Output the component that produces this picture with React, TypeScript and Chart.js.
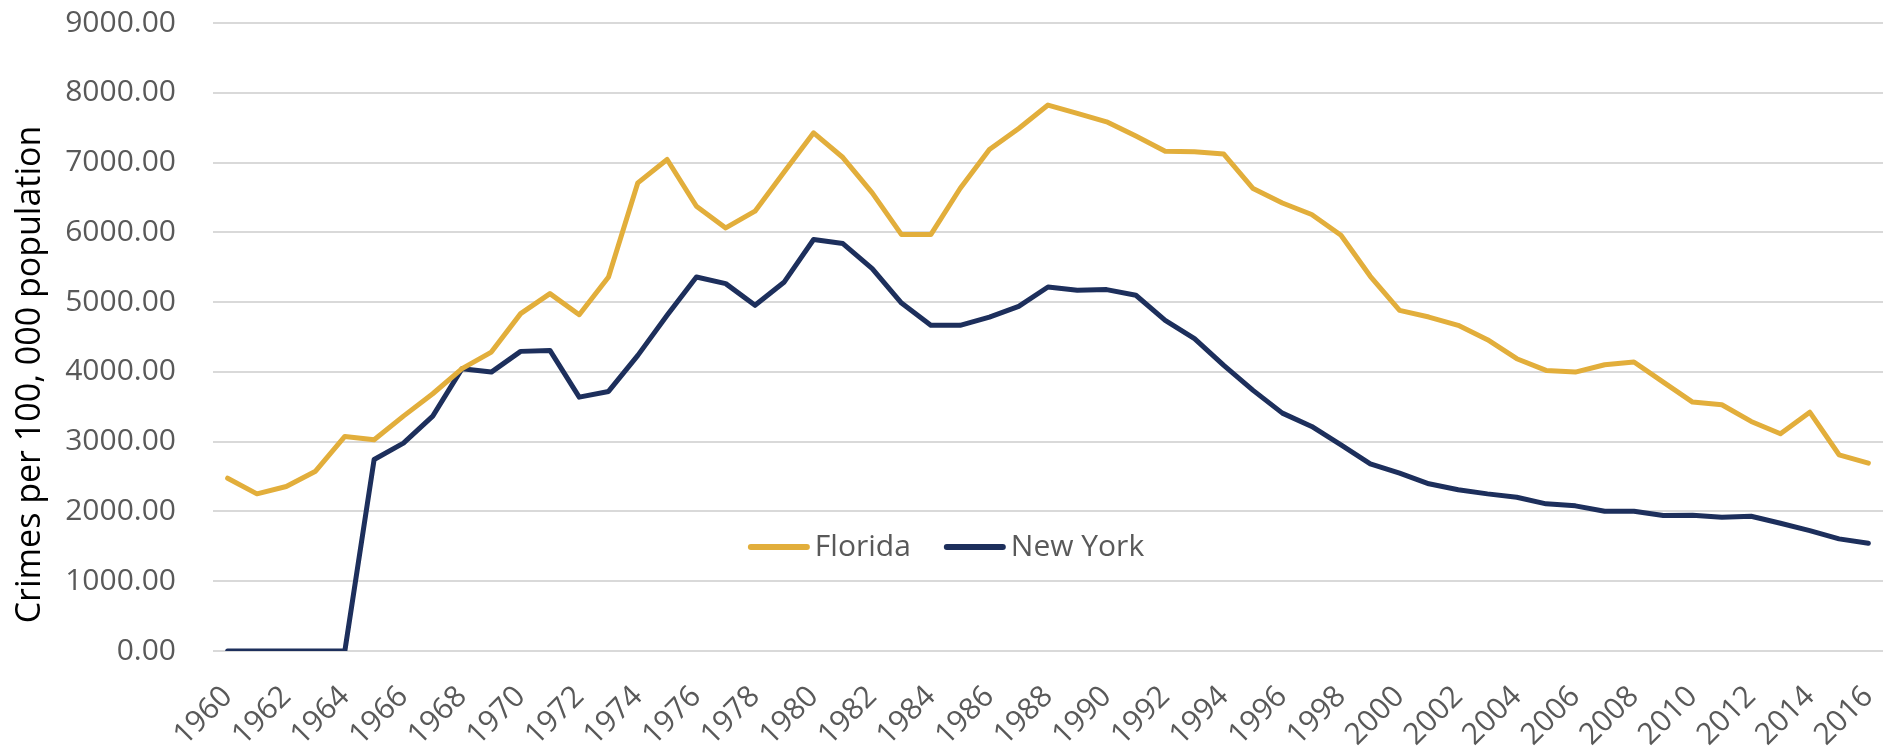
import React, { useEffect, useRef } from "react";
import { Chart, registerables } from "chart.js";

Chart.register(...registerables);

const years: string[] = [
  "1960","1961","1962","1963","1964","1965","1966","1967","1968","1969",
  "1970","1971","1972","1973","1974","1975","1976","1977","1978","1979",
  "1980","1981","1982","1983","1984","1985","1986","1987","1988","1989",
  "1990","1991","1992","1993","1994","1995","1996","1997","1998","1999",
  "2000","2001","2002","2003","2004","2005","2006","2007","2008","2009",
  "2010","2011","2012","2013","2014","2015","2016",
];

const florida: number[] = [
  2476, 2252, 2357, 2577, 3075, 3027, 3366, 3687, 4046, 4284,
  4835, 5122, 4820, 5360, 6709, 7044, 6374, 6063, 6303, 6867,
  7426, 7072, 6565, 5968, 5968, 6628, 7188, 7489, 7824, 7704,
  7584, 7379, 7163, 7154, 7121, 6628, 6420, 6255, 5958, 5370,
  4882, 4786, 4667, 4462, 4189, 4021, 3997, 4103, 4141, 3854,
  3567, 3529, 3290, 3113, 3423, 2812, 2692,
];

const newYork: number[] = [
  0, 0, 0, 0, 0, 2745, 2979, 3366, 4046, 3997,
  4294, 4308, 3638, 3720, 4237, 4811, 5360, 5265, 4954, 5289,
  5897, 5839, 5481, 4987, 4667, 4667, 4786, 4940, 5217, 5169,
  5179, 5098, 4739, 4476, 4093, 3735, 3409, 3218, 2955, 2683,
  2548, 2396, 2310, 2252, 2204, 2109, 2080, 2003, 2003, 1941,
  1945, 1917, 1931, 1831, 1726, 1607, 1544,
];

const seriesNames: string[] = ["Florida", "New York"];
const seriesColors: string[] = ["#E2AE3B", "#1D2F5C"];
const yMin = 0;
const yMax = 9000;
const yStep = 1000;
const yAxisTitle = "Crimes per 100, 000 population";

const FONT = "'Open Sans', 'DejaVu Sans', sans-serif";
const TICK_COLOR = "#595959";

export default function App() {
  const canvasRef = useRef<HTMLCanvasElement | null>(null);

  useEffect(() => {
    document.body.style.margin = "0";
    const canvas = canvasRef.current;
    if (!canvas) return;

    const yTitlePlugin = {
      id: "yTitle",
      afterDraw(chart: any) {
        const c = chart.ctx as CanvasRenderingContext2D;
        c.save();
        c.translate(30, chart.height / 2);
        c.rotate(-Math.PI / 2);
        c.font = `34px ${FONT}`;
        c.fillStyle = "#000000";
        c.textAlign = "center";
        c.textBaseline = "middle";
        c.fillText(yAxisTitle, 0, 0);
        c.restore();
      },
    };

    const legendPlugin = {
      id: "customLegend",
      afterDraw(chart: any) {
        const c = chart.ctx as CanvasRenderingContext2D;
        c.save();
        c.font = `30px ${FONT}`;
        const lineLen = 62;
        const gapLineText = 5;
        const gapItems = 33;
        const widths = seriesNames.map((n) => c.measureText(n).width);
        let total = 0;
        widths.forEach((w, i) => {
          total += lineLen + gapLineText + w + (i < widths.length - 1 ? gapItems : 0);
        });
        let x = chart.width / 2 - total / 2;
        const y = 547;
        seriesNames.forEach((name, i) => {
          c.strokeStyle = seriesColors[i];
          c.lineWidth = 6;
          c.lineCap = "round";
          c.beginPath();
          c.moveTo(x + 3, y);
          c.lineTo(x + lineLen - 3, y);
          c.stroke();
          c.fillStyle = TICK_COLOR;
          c.textAlign = "left";
          c.textBaseline = "middle";
          c.fillText(name, x + lineLen + gapLineText, y);
          x += lineLen + gapLineText + widths[i] + gapItems;
        });
        c.restore();
      },
    };

    const chart = new Chart(canvas, {
      type: "line",
      data: {
        labels: years,
        datasets: [
          {
            label: seriesNames[0],
            data: florida,
            borderColor: seriesColors[0],
            backgroundColor: seriesColors[0],
          },
          {
            label: seriesNames[1],
            data: newYork,
            borderColor: seriesColors[1],
            backgroundColor: seriesColors[1],
          },
        ],
      },
      options: {
        animation: false,
        responsive: false,
        maintainAspectRatio: false,
        layout: { padding: { top: 23, right: 9, left: 0, bottom: 0 } },
        plugins: {
          legend: { display: false },
          tooltip: { enabled: false },
        },
        elements: {
          point: { radius: 0 },
          line: {
            borderWidth: 5,
            tension: 0,
            borderCapStyle: "round",
            borderJoinStyle: "round",
          },
        },
        scales: {
          x: {
            offset: true,
            grid: { display: false, drawTicks: true, tickLength: 25 },
            border: { display: false },
            ticks: {
              autoSkip: false,
              maxRotation: 45,
              minRotation: 45,
              color: TICK_COLOR,
              font: { family: FONT, size: 30 },
              padding: 3,
              callback: (_v: any, i: number) => (i % 2 === 0 ? years[i] : ""),
            },
            afterFit: (s: any) => {
              s.height = 98;
              s.paddingLeft = 0;
              s.paddingRight = 0;
            },
          },
          y: {
            min: yMin,
            max: yMax,
            ticks: {
              stepSize: yStep,
              color: TICK_COLOR,
              font: { family: FONT, size: 30 },
              padding: 3,
              callback: (v: any) => Number(v).toFixed(2),
            },
            grid: {
              color: "#D9D9D9",
              lineWidth: 2,
              drawTicks: true,
              tickLength: 34,
              tickColor: "rgba(0,0,0,0)",
            },
            border: { display: false },
            afterFit: (s: any) => {
              s.width = 213;
            },
          },
        },
      },
      plugins: [yTitlePlugin, legendPlugin],
    });

    return () => {
      chart.destroy();
    };
  }, []);

  return (
    <div style={{ width: 1892, height: 749 }}>
      <canvas ref={canvasRef} width={1892} height={749} style={{ display: "block" }} />
    </div>
  );
}
